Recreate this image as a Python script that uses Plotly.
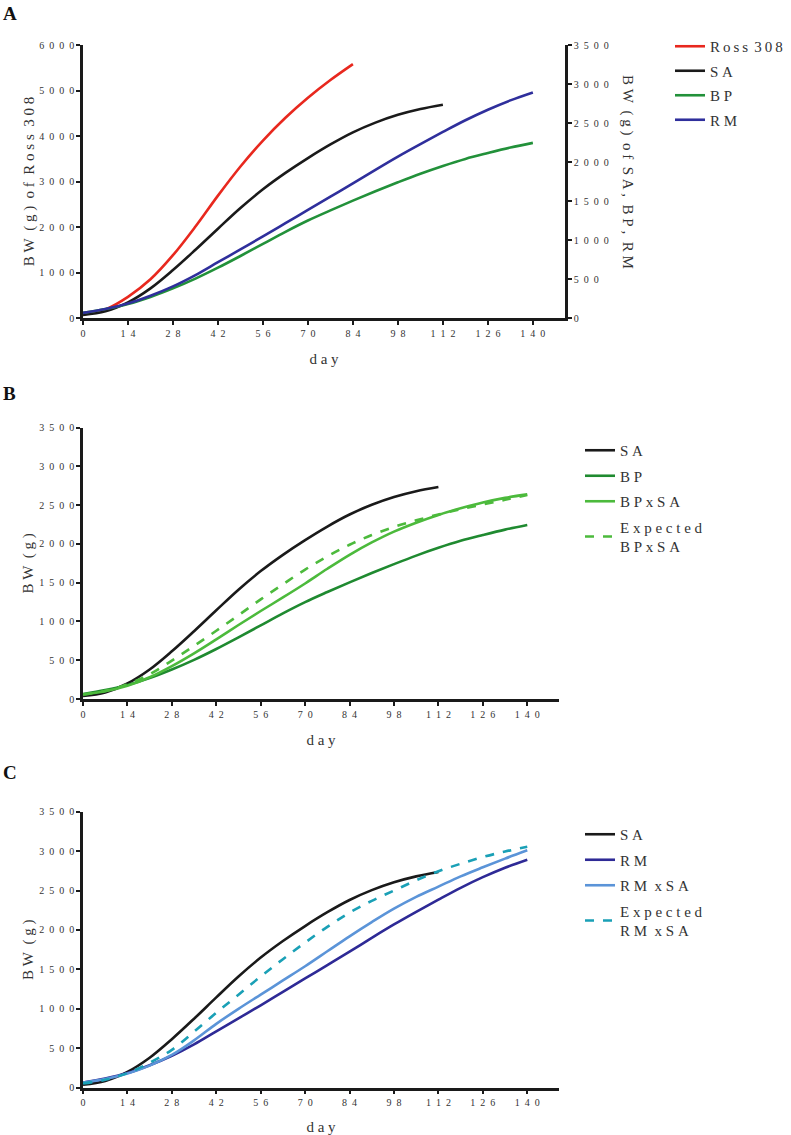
import plotly.graph_objects as go

# ---------------- data ----------------
DAYS_84 = [0, 7, 14, 21, 28, 35, 42, 49, 56, 63, 70, 77, 84]
DAYS_112 = [0, 7, 14, 21, 28, 35, 42, 49, 56, 63, 70, 77, 84, 91, 98, 105, 112]
DAYS_140 = [0, 7, 14, 21, 28, 35, 42, 49, 56, 63, 70, 77, 84, 91, 98, 105, 112, 119, 126, 133, 140]

ROSS_308 = [80, 190, 465, 850, 1380, 2010, 2690, 3330, 3900, 4400, 4840, 5230, 5580]
SA = [38, 85, 200, 380, 615, 875, 1145, 1410, 1650, 1860, 2050, 2225, 2380, 2505, 2605, 2680, 2735]
BP = [65, 115, 180, 270, 380, 505, 645, 795, 950, 1105, 1250, 1380, 1505, 1625, 1740, 1850,
      1950, 2040, 2115, 2185, 2245]
RM = [65, 115, 185, 285, 405, 550, 715, 880, 1045, 1215, 1385, 1555, 1725, 1900, 2070, 2230,
      2385, 2535, 2670, 2790, 2892]
BPxSA = [60, 100, 170, 280, 425, 590, 770, 955, 1135, 1310, 1490, 1680, 1860, 2020, 2160, 2275,
         2375, 2460, 2535, 2595, 2640]
EXP_BPxSA = [55, 105, 190, 320, 495, 685, 880, 1080, 1285, 1480, 1670, 1840, 1990, 2115, 2220,
             2305, 2380, 2450, 2510, 2570, 2632]
RMxSA = [65, 110, 180, 280, 415, 600, 810, 1000, 1180, 1360, 1540, 1730, 1920, 2100, 2270, 2420,
         2550, 2680, 2795, 2905, 3010]
EXP_RMxSA = [55, 100, 185, 315, 480, 710, 950, 1180, 1410, 1630, 1840, 2040, 2220, 2370, 2500,
             2630, 2745, 2840, 2925, 2995, 3055]

X_TICKS = [0, 14, 28, 42, 56, 70, 84, 98, 112, 126, 140]
Y_TICKS_ROSS = [0, 1000, 2000, 3000, 4000, 5000, 6000]
Y_TICKS_BW = [0, 500, 1000, 1500, 2000, 2500, 3000, 3500]

# ---------------- style ----------------
W, H = 791, 1135
SERIF = "Liberation Serif"
AX = "#1a1a1a"
TXT = "#333333"
RED = "#e8281e"
BLACK = "#1a1a1a"
GREEN_A = "#22913a"
BLUE_A = "#2f2f9c"
DKGREEN = "#1f8a30"
LTGREEN = "#4cba3c"
DKBLUE = "#2e2a96"
LTBLUE = "#5b94d8"
TEAL = "#1aa0b6"
LW = 2.6


def sp(s, gap="\u2002"):
    return gap.join(list(s))


def lsp(s, gap="\u00a0"):
    # letter spaced text (words separated by a wider gap)
    return (gap * 2).join(gap.join(list(w)) for w in s.split(" "))


def px_x(v):
    return v / W


def px_y(v):
    return 1 - v / H


fig = go.Figure()


def add(x, y, name, color, xa, ya, leg, dash="solid"):
    fig.add_trace(go.Scatter(x=x, y=y, name=name, mode="lines",
                             line=dict(color=color, width=LW, shape="spline", dash=dash),
                             xaxis=xa, yaxis=ya, legend=leg, legendgroup=leg + name))


# Panel A
add(DAYS_84, ROSS_308, lsp("Ross 308", "\u2009"), RED, "x", "y", "legend")
add(DAYS_112, SA, lsp("SA"), BLACK, "x", "y2", "legend")
add(DAYS_140, BP, lsp("BP"), GREEN_A, "x", "y2", "legend")
add(DAYS_140, RM, lsp("RM"), BLUE_A, "x", "y2", "legend")

# Panel B
add(DAYS_112, SA, lsp("SA"), BLACK, "x2", "y3", "legend2")
add(DAYS_140, BP, lsp("BP"), DKGREEN, "x2", "y3", "legend2")
add(DAYS_140, BPxSA, lsp("BPxSA"), LTGREEN, "x2", "y3", "legend2")
add(DAYS_140, EXP_BPxSA, lsp("Expected") + "<br>" + lsp("BPxSA"), LTGREEN, "x2", "y3",
    "legend2", dash="dash")

# Panel C
add(DAYS_112, SA, lsp("SA"), BLACK, "x3", "y4", "legend3")
add(DAYS_140, RM, lsp("RM"), DKBLUE, "x3", "y4", "legend3")
add(DAYS_140, RMxSA, lsp("RM xSA"), LTBLUE, "x3", "y4", "legend3")
add(DAYS_140, EXP_RMxSA, lsp("Expected") + "<br>" + lsp("RM xSA"), TEAL, "x3", "y4",
    "legend3", dash="dash")

tickfont = dict(family=SERIF, size=10, color=TXT)
titlefont = dict(family=SERIF, size=15, color=TXT)


def xaxis(dom, anchor):
    return dict(domain=dom, anchor=anchor, range=[0, 150], tickvals=X_TICKS,
                ticktext=[sp(str(v)) for v in X_TICKS], ticks="outside", ticklen=4,
                tickwidth=2, tickcolor=AX, showline=True, linecolor=AX, linewidth=2.5,
                showgrid=False, zeroline=False, tickfont=tickfont,
                title=dict(text=lsp("day"), font=titlefont, standoff=16), automargin=False)


def yaxis(dom, anchor, rng, ticks, title, side="left"):
    d = dict(domain=dom, anchor=anchor, range=rng, tickvals=ticks,
             ticktext=[sp(str(v)) for v in ticks], ticks="outside", ticklen=4,
             tickwidth=2, tickcolor=AX, showline=True, linecolor=AX, linewidth=2.5,
             showgrid=False, zeroline=False, tickfont=tickfont, side=side, automargin=False)
    if title:
        d["title"] = dict(text=title, font=titlefont, standoff=2)
    return d


ydomA = [px_y(318), px_y(45)]
ydomB = [px_y(699), px_y(427.7)]
ydomC = [px_y(1087.7), px_y(811.7)]

legfont = dict(family=SERIF, size=15, color=TXT)

fig.update_layout(
    width=W, height=H,
    margin=dict(l=0, r=0, t=0, b=0),
    paper_bgcolor="white", plot_bgcolor="white",
    font=dict(family=SERIF, color=TXT),
    xaxis=xaxis([px_x(83), px_x(565)], "y"),
    yaxis=yaxis(ydomA, "x", [0, 6000], Y_TICKS_ROSS, lsp("BW (g) of Ross 308")),
    yaxis2=dict(yaxis(ydomA, "x", [0, 3500], Y_TICKS_BW, None, side="right"), overlaying="y"),
    xaxis2=xaxis([px_x(83), px_x(559)], "y3"),
    yaxis3=yaxis(ydomB, "x2", [0, 3500], Y_TICKS_BW, lsp("BW (g)")),
    xaxis3=xaxis([px_x(83), px_x(559)], "y4"),
    yaxis4=yaxis(ydomC, "x3", [0, 3500], Y_TICKS_BW, lsp("BW (g)")),
    legend=dict(x=px_x(670), y=px_y(30), xanchor="left", yanchor="top", font=legfont,
                bgcolor="rgba(0,0,0,0)", tracegroupgap=2, borderwidth=0),
    legend2=dict(x=px_x(580), y=px_y(434), xanchor="left", yanchor="top", font=legfont,
                 bgcolor="rgba(0,0,0,0)", tracegroupgap=3, borderwidth=0),
    legend3=dict(x=px_x(580), y=px_y(818), xanchor="left", yanchor="top", font=legfont,
                 bgcolor="rgba(0,0,0,0)", tracegroupgap=3, borderwidth=0),
    showlegend=True,
)

# right axis title of panel A (reads top-to-bottom)
fig.add_annotation(x=px_x(628), y=px_y(172), xref="paper", yref="paper",
                   xanchor="center", yanchor="middle",
                   text=lsp("BW (g) of SA, BP, RM"), textangle=90, showarrow=False,
                   font=titlefont)

# panel letters
for letter, ypix in [("A", 13), ("B", 393), ("C", 772)]:
    fig.add_annotation(x=px_x(1), y=px_y(ypix), xref="paper", yref="paper",
                       xanchor="left", yanchor="middle", text="<b>" + letter + "</b>",
                       showarrow=False, font=dict(family=SERIF, size=19, color="#111111"))

fig.write_html("out.html", config={"displayModeBar": False},
               post_script="document.body.style.margin='0';")
